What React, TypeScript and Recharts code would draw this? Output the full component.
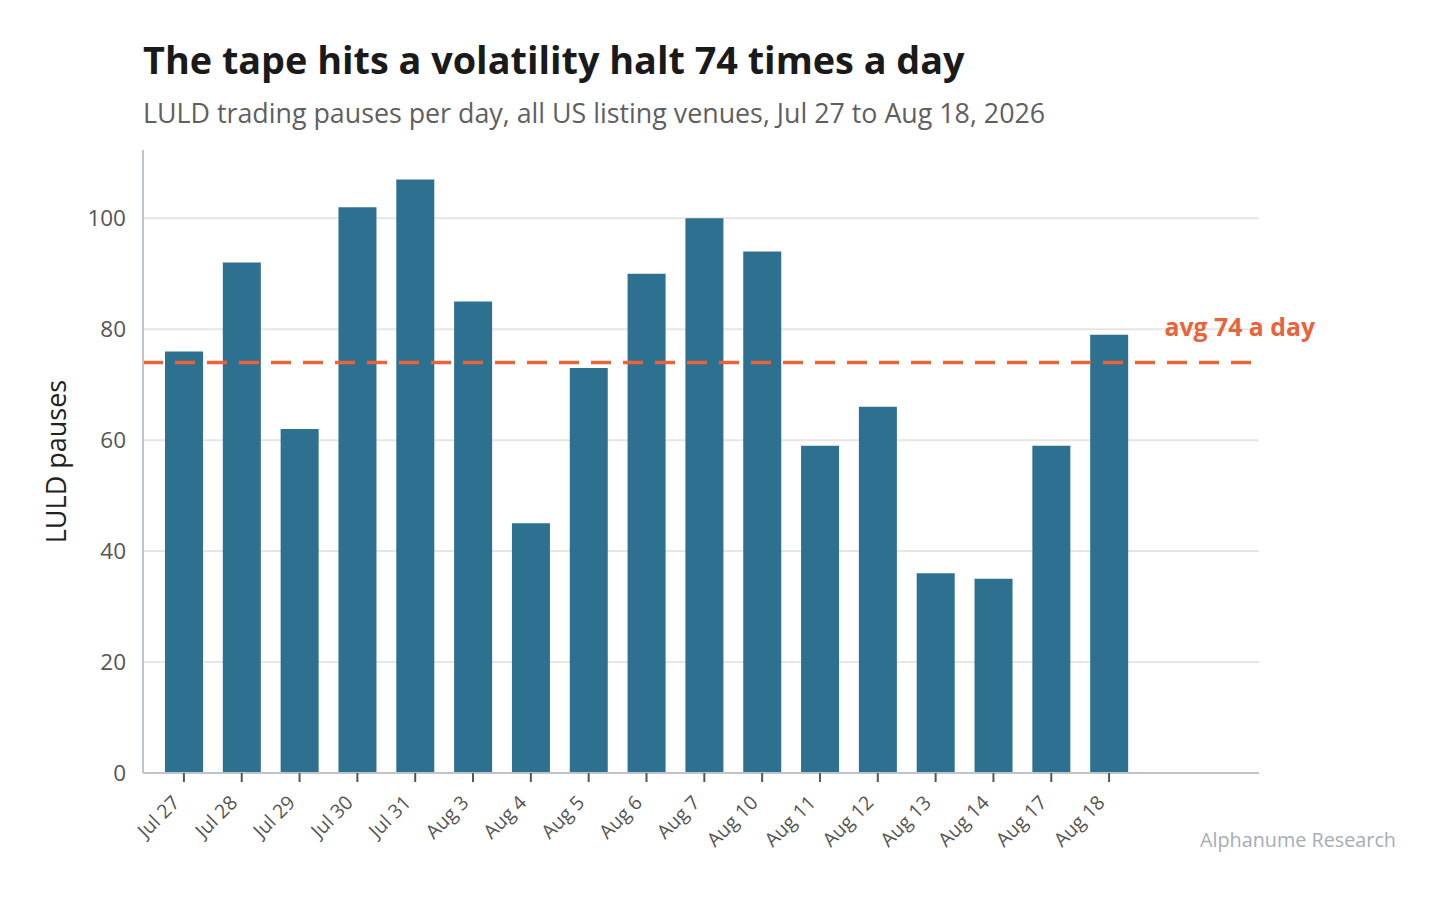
import React from "react";
import {
  ComposedChart,
  Bar,
  XAxis,
  YAxis,
  CartesianGrid,
  ReferenceLine,
} from "recharts";

const days = [
  "Jul 27", "Jul 28", "Jul 29", "Jul 30", "Jul 31",
  "Aug 3", "Aug 4", "Aug 5", "Aug 6", "Aug 7",
  "Aug 10", "Aug 11", "Aug 12", "Aug 13", "Aug 14",
  "Aug 17", "Aug 18",
];
const pauses = [76, 92, 62, 102, 107, 85, 45, 73, 90, 100, 94, 59, 66, 36, 35, 59, 79];
const yTicks = [0, 20, 40, 60, 80, 100];
const gridValues = [20, 40, 60, 80, 100];
const avgValue = 74;
const avgLabel = "avg 74 a day";

const data = days.map((d, i) => ({ day: d, pauses: pauses[i] }));

const FONT = "'Open Sans', 'Noto Sans', sans-serif";
const BAR = "#2E7090";
const ORANGE = "#E8643C";

const XTick = (props: any) => {
  const { x, y, payload } = props;
  return (
    <g transform={`translate(${x - 15},${y + 8}) rotate(-45)`}>
      <text
        x={0}
        y={0}
        textAnchor="end"
        dominantBaseline="hanging"
        fontFamily={FONT}
        fontSize={19.5}
        fill="#555"
      >
        {payload.value}
      </text>
    </g>
  );
};

const AvgLabel = (props: any) => {
  const vb = props.viewBox || {};
  return (
    <text
      x={vb.x + vb.width + 56}
      y={vb.y - 26}
      textAnchor="end"
      fontFamily={FONT}
      fontWeight={700}
      fontSize={24.8}
      fill={ORANGE}
    >
      {avgLabel}
    </text>
  );
};

export default function App() {
  return (
    <div
      style={{
        position: "absolute",
        left: 0,
        top: 0,
        width: 1441,
        height: 902,
        background: "#fff",
        fontFamily: FONT,
      }}
    >
      <div
        style={{
          position: "absolute",
          left: 143,
          top: 34,
          fontSize: 37.8,
          fontWeight: 700,
          color: "#1a1a1a",
          lineHeight: "52px",
          whiteSpace: "nowrap",
        }}
      >
        The tape hits a volatility halt 74 times a day
      </div>
      <div
        style={{
          position: "absolute",
          left: 143,
          top: 95,
          fontSize: 26.8,
          color: "#5f5f5f",
          lineHeight: "36px",
          whiteSpace: "nowrap",
        }}
      >
        LULD trading pauses per day, all US listing venues, Jul 27 to Aug 18, 2026
      </div>
      <div
        style={{
          position: "absolute",
          right: 1441 - 1396,
          top: 825,
          fontSize: 19.8,
          color: "#A6ADB4",
          lineHeight: "30px",
          whiteSpace: "nowrap",
        }}
      >
        Alphanume Research
      </div>
      <div style={{ position: "absolute", left: 0, top: 0 }}>
        <ComposedChart
          width={1441}
          height={902}
          data={data}
          margin={{ top: 150, right: 182, bottom: 49, left: 83 }}
        >
          <CartesianGrid
            horizontal
            vertical={false}
            stroke="#E6E6E6"
            strokeWidth={2}
            horizontalValues={gridValues}
          />
          <XAxis
            dataKey="day"
            interval={0}
            padding={{ left: 12, right: 121 }}
            axisLine={{ stroke: "#BFC4CC", strokeWidth: 2 }}
            tickLine={{ stroke: "#555", strokeWidth: 2 }}
            tickSize={9}
            tick={<XTick />}
            height={80}
          />
          <YAxis
            domain={[0, 112.3]}
            ticks={yTicks}
            width={60}
            axisLine={{ stroke: "#BFC4CC", strokeWidth: 2 }}
            tickLine={false}
            tickSize={0}
            tickMargin={17}
            tick={{ fontFamily: FONT, fontSize: 22.5, fill: "#555" }}
            label={{
              value: "LULD pauses",
              angle: -90,
              position: "insideLeft",
              dx: -32,
              style: {
                textAnchor: "middle",
                fontFamily: FONT,
                fontSize: 27,
                fill: "#222",
              },
            }}
          />
          <Bar
            dataKey="pauses"
            fill={BAR}
            barSize={38}
            isAnimationActive={false}
          />
          <ReferenceLine
            y={avgValue}
            stroke={ORANGE}
            strokeWidth={3.5}
            strokeDasharray="20 12"
            label={<AvgLabel />}
          />
        </ComposedChart>
      </div>
    </div>
  );
}
